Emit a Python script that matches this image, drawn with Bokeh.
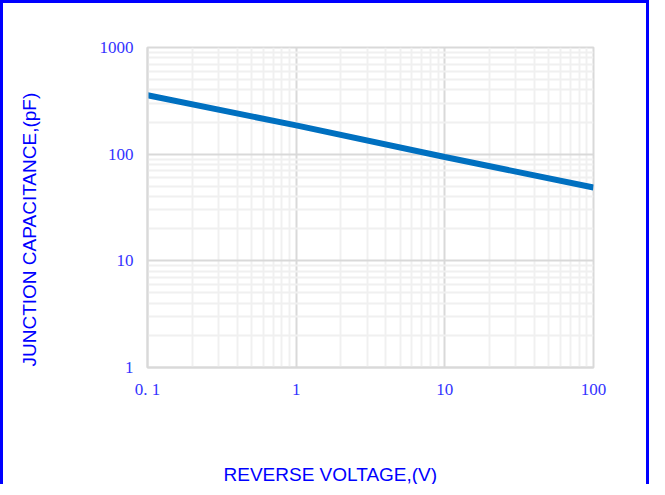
from bokeh.plotting import figure
from bokeh.models import FixedTicker, Title
from bokeh.embed import file_html
from bokeh.resources import INLINE

# Data
voltage = [0.1, 1, 10, 100]
capacitance = [357, 186, 94, 48.7]
x_ticks = [0.1, 1, 10, 100]
x_tick_labels = {0.1: "0. 1", 1: "1", 10: "10", 100: "100"}
y_ticks = [1, 10, 100, 1000]
y_tick_labels = {1: "1", 10: "10", 100: "100", 1000: "1000"}
x_minor = [m * d for d in [0.1, 1, 10] for m in range(2, 10)]
y_minor = [m * d for d in [1, 10, 100] for m in range(2, 10)]
x_title = "REVERSE VOLTAGE,(V)"
y_title = "JUNCTION CAPACITANCE,(pF)"

W, H = 649, 484
p = figure(width=W, height=H, x_axis_type="log", y_axis_type="log",
           x_range=(0.1, 100), y_range=(1, 1000),
           output_backend="svg", toolbar_location=None,
           min_border_left=144, min_border_right=W - 144 - 446,
           min_border_top=44, min_border_bottom=H - 44 - 320)
p.styles = {"border-top": "3px solid #0000ff",
            "border-left": "3px solid #0000ff",
            "border-right": "3px solid #0000ff"}
p.background_fill_color = "white"
p.border_fill_color = "white"
p.outline_line_color = "#d9d9d9"
p.outline_line_width = 2

p.xaxis.ticker = FixedTicker(ticks=x_ticks, minor_ticks=x_minor)
p.yaxis.ticker = FixedTicker(ticks=y_ticks, minor_ticks=y_minor)
p.xaxis.major_label_overrides = x_tick_labels
p.yaxis.major_label_overrides = y_tick_labels

for ax in (p.xaxis, p.yaxis):
    ax.axis_line_color = "#d9d9d9"
    ax.axis_line_width = 2
    ax.major_tick_line_color = None
    ax.minor_tick_line_color = None
    ax.major_tick_in = 0
    ax.major_tick_out = 0
    ax.minor_tick_in = 0
    ax.minor_tick_out = 0
    ax.major_label_text_font = "Liberation Serif"
    ax.major_label_text_font_size = "17px"
    ax.major_label_text_color = "#3333ff"
    # blank axis label used only as a spacer before the title
    ax.axis_label = " "
    ax.axis_label_text_font_size = "1px"
p.xaxis.major_label_standoff = 12
p.yaxis.major_label_standoff = 14
p.xaxis.axis_label_standoff = 56
p.yaxis.axis_label_standoff = 53

for g in (p.xgrid, p.ygrid):
    g.grid_line_color = "#d9d9d9"
    g.grid_line_width = 2
    g.minor_grid_line_color = "#f0f0f0"
    g.minor_grid_line_width = 2

p.line(voltage, capacitance, line_color="#0070c0", line_width=6)

p.add_layout(Title(text=x_title, align="left", offset=76, standoff=0,
                   text_font="Liberation Sans", text_font_size="19px",
                   text_font_style="normal", text_color="#0000ff"), "below")
p.add_layout(Title(text=y_title, align="left", offset=1, standoff=0,
                   text_font="Liberation Sans", text_font_size="19px",
                   text_font_style="normal", text_color="#0000ff"), "left")

open("out.html", "w").write(file_html(p, INLINE))
